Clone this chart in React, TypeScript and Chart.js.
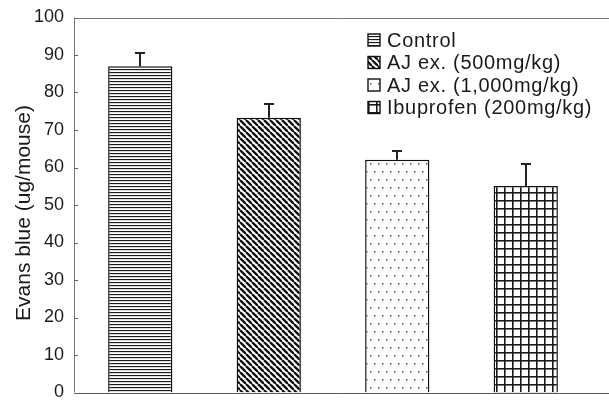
import React, { useEffect, useRef } from 'react';
import { Chart, registerables } from 'chart.js';

Chart.register(...registerables);

const categories = ['Control', 'AJ ex. (500mg/kg)', 'AJ ex. (1,000mg/kg)', 'Ibuprofen (200mg/kg)'];
const values = [87.0, 73.3, 62.1, 55.1];
const errors = [3.4, 3.6, 2.4, 5.9];
const patternKinds = ['hlines', 'diag', 'dots', 'grid'];
const yTickValues = [0, 10, 20, 30, 40, 50, 60, 70, 80, 90, 100];
const yTitle = 'Evans blue (ug/mouse)';

const FONT = "'Liberation Sans', Arial, sans-serif";

function makePattern(kind: string): CanvasPattern | string {
  const c = document.createElement('canvas');
  const ctx = c.getContext('2d')!;
  if (kind === 'hlines') {
    c.width = 6; c.height = 3;
    ctx.fillStyle = '#fff'; ctx.fillRect(0, 0, 6, 3);
    ctx.fillStyle = '#1a1a1a'; ctx.fillRect(0, 0, 6, 1);
    ctx.fillStyle = '#bbb'; ctx.fillRect(0, 1, 6, 0.5);
  } else if (kind === 'diag') {
    const s = 6;
    c.width = s; c.height = s;
    ctx.fillStyle = '#fff'; ctx.fillRect(0, 0, s, s);
    ctx.strokeStyle = '#111'; ctx.lineWidth = 2.3;
    for (const o of [-s, 0, s]) {
      ctx.beginPath(); ctx.moveTo(o, 0); ctx.lineTo(o + s, s); ctx.stroke();
    }
  } else if (kind === 'dots') {
    c.width = 8; c.height = 16;
    ctx.fillStyle = '#fff'; ctx.fillRect(0, 0, 8, 16);
    ctx.fillStyle = '#555';
    ctx.fillRect(2, 3, 1.5, 1.5);
    ctx.fillRect(6, 11, 1.5, 1.5);
  } else {
    c.width = 8; c.height = 8;
    ctx.fillStyle = '#fff'; ctx.fillRect(0, 0, 8, 8);
    ctx.fillStyle = '#1a1a1a';
    ctx.fillRect(0, 0, 8, 1.6);
    ctx.fillRect(0, 0, 1.6, 8);
  }
  return ctx.createPattern(c, 'repeat') || '#ccc';
}

export default function App() {
  const ref = useRef<HTMLCanvasElement | null>(null);
  useEffect(() => {
    if (!ref.current) return;
    const patterns = patternKinds.map(makePattern);

    const framePlugin = {
      id: 'frame',
      beforeDatasetsDraw(chart: any) {
        const { ctx, chartArea } = chart;
        const { top, bottom } = chartArea;
        const left = chartArea.left - 2;
        const W = chart.width;
        ctx.save();
        ctx.strokeStyle = '#777';
        ctx.lineWidth = 1;
        ctx.beginPath();
        ctx.moveTo(left, Math.round(top) + 0.5); ctx.lineTo(W, Math.round(top) + 0.5);
        ctx.moveTo(left + 0.5, top); ctx.lineTo(left + 0.5, bottom);
        ctx.stroke();
        ctx.strokeStyle = '#555';
        ctx.beginPath();
        ctx.moveTo(left, Math.round(bottom) + 0.5); ctx.lineTo(W, Math.round(bottom) + 0.5);
        ctx.stroke();
        const y = chart.scales.y;
        ctx.strokeStyle = '#666';
        ctx.beginPath();
        yTickValues.forEach((v) => {
          const py = Math.round(y.getPixelForValue(v)) + 0.5;
          ctx.moveTo(left, py); ctx.lineTo(left + 4, py);
        });
        ctx.stroke();
        // y-axis title
        ctx.save();
        ctx.translate(30, 213);
        ctx.rotate(-Math.PI / 2);
        ctx.font = `21px ${FONT}`;
        ctx.fillStyle = '#1a1a1a';
        ctx.textAlign = 'center';
        ctx.textBaseline = 'alphabetic';
        ctx.fillText(yTitle, 0, 0);
        ctx.restore();
        ctx.restore();
      },
      afterDatasetsDraw(chart: any) {
        const { ctx } = chart;
        const meta = chart.getDatasetMeta(0);
        const y = chart.scales.y;
        ctx.save();
        ctx.strokeStyle = '#222';
        ctx.lineWidth = 2;
        meta.data.forEach((bar: any, i: number) => {
          const x = Math.round(bar.x);
          const y0 = y.getPixelForValue(values[i]);
          const y1 = Math.round(y.getPixelForValue(values[i] + errors[i]));
          ctx.beginPath();
          ctx.moveTo(x, y0); ctx.lineTo(x, y1);
          ctx.moveTo(x - 5, y1); ctx.lineTo(x + 5, y1);
          ctx.stroke();
        });
        ctx.font = `20px ${FONT}`;
        try { (ctx as any).letterSpacing = '0.7px'; } catch (e) { /* ignore */ }
        ctx.textBaseline = 'middle';
        ctx.textAlign = 'left';
        categories.forEach((label, i) => {
          const cy = 40 + i * 22.5;
          const bx = 368, bs = 12;
          ctx.fillStyle = patterns[i];
          ctx.fillRect(bx, cy - bs / 2, bs, bs);
          ctx.lineWidth = 1.4;
          ctx.strokeStyle = '#111';
          ctx.strokeRect(bx, cy - bs / 2, bs, bs);
          ctx.fillStyle = '#1a1a1a';
          ctx.fillText(label, 387, cy + 1);
        });
        ctx.restore();
      },
    };

    const chart = new Chart(ref.current, {
      type: 'bar',
      data: {
        labels: categories,
        datasets: [
          {
            data: values,
            backgroundColor: patterns as any,
            borderColor: '#111',
            borderWidth: 1.5,
            barPercentage: 0.5,
            categoryPercentage: 1,
          },
        ],
      },
      options: {
        animation: false,
        responsive: false,
        maintainAspectRatio: false,
        layout: { padding: { top: 17.5, bottom: 7.5, right: 19, left: 0 } },
        plugins: { legend: { display: false }, tooltip: { enabled: false } },
        scales: {
          x: { display: false },
          y: {
            min: 0,
            max: 100,
            afterBuildTicks: (scale: any) => {
              scale.ticks = yTickValues.map((v) => ({ value: v }));
            },
            afterFit: (scale: any) => {
              scale.width = 76;
              scale.paddingTop = 0;
              scale.paddingBottom = 0;
            },
            grid: { display: false, drawTicks: false },
            border: { display: false },
            ticks: {
              padding: 12,
              color: '#1a1a1a',
              font: { family: FONT, size: 18 },
            },
            title: { display: false },
          },
        },
      },
      plugins: [framePlugin],
    });
    return () => chart.destroy();
  }, []);

  return (
    <div style={{ position: 'fixed', left: 0, top: 0, width: 609, height: 400, background: '#fff' }}>
      <canvas ref={ref} width={609} height={400} style={{ width: 609, height: 400 }} />
    </div>
  );
}
